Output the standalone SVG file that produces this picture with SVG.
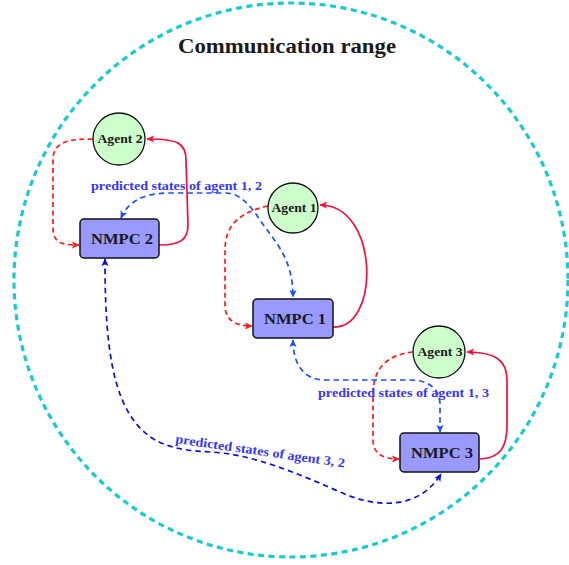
<svg xmlns="http://www.w3.org/2000/svg" width="569" height="565" viewBox="0 0 569 565">
<style>
.range{fill:none;stroke:#16cccc;stroke-width:3.2;stroke-dasharray:6 4.5}
.agent circle{fill:#ccffcc;stroke:#111;stroke-width:1.3}
.nmpc rect{fill:#9999ff;stroke:#111;stroke-width:1.5}
.alab{font-family:"Liberation Serif",serif;font-weight:bold;font-size:12px;fill:#1a1a1a;text-anchor:middle}
.nlab{font-family:"Liberation Serif",serif;font-weight:bold;font-size:15px;fill:#1a1a1a;text-anchor:middle}
.title{font-family:"Liberation Serif",serif;font-weight:bold;font-size:20px;fill:#1a1a1a;text-anchor:middle}
.plab{font-family:"Liberation Serif",serif;font-weight:bold;font-size:13px;fill:#3636ff}
.rd{fill:none;stroke:#ff1a1a;stroke-width:1.7;stroke-dasharray:5 3.5;marker-end:url(#ar)}
.rs{fill:none;stroke:#f5103c;stroke-width:1.7;marker-end:url(#as)}
.bd{fill:none;stroke:#1a4fff;stroke-width:1.7;stroke-dasharray:5.5 4;marker-start:url(#ab);marker-end:url(#ab)}
.bd2{fill:none;stroke:#0a10dc;stroke-width:1.7;stroke-dasharray:5.5 4;marker-start:url(#ab2);marker-end:url(#ab2)}
</style>
<defs>
<marker id="ar" viewBox="0 0 10 10" refX="9" refY="5" markerWidth="8" markerHeight="8" markerUnits="userSpaceOnUse" orient="auto-start-reverse"><path d="M0,0.5 L10,5 L0,9.5 L2.5,5 Z" fill="#ff1a1a"/></marker>
<marker id="as" viewBox="0 0 10 10" refX="9" refY="5" markerWidth="8" markerHeight="8" markerUnits="userSpaceOnUse" orient="auto-start-reverse"><path d="M0,0.5 L10,5 L0,9.5 L2.5,5 Z" fill="#f5103c"/></marker>
<marker id="ab" viewBox="0 0 10 10" refX="9" refY="5" markerWidth="8" markerHeight="8" markerUnits="userSpaceOnUse" orient="auto-start-reverse"><path d="M0,0.5 L10,5 L0,9.5 L2.5,5 Z" fill="#1a4fff"/></marker>
<marker id="ab2" viewBox="0 0 10 10" refX="9" refY="5" markerWidth="8" markerHeight="8" markerUnits="userSpaceOnUse" orient="auto-start-reverse"><path d="M0,0.5 L10,5 L0,9.5 L2.5,5 Z" fill="#0a10dc"/></marker>
</defs>
<rect width="569" height="565" fill="#fff"/>
<g id="range">
<circle class="range" cx="291" cy="280" r="277"/>
<text class="title" x="287" y="53" textLength="218" lengthAdjust="spacingAndGlyphs">Communication range</text>
</g>
<g id="connectors">
<path class="rd" d="M93,139 C70,139 53,141 53,160 L53,228 C53,243 62,245 79,245"/>
<path class="rs" d="M159,245 C180,245 188,240 188,225 L186,160 C186,143 178,139 147,139"/>
<path class="rd" d="M268,206 C240,212 225,225 225,250 L225,305 C225,320 235,326 252,326"/>
<path class="rs" d="M333,327 C380,330 380,205 320,205"/>
<path class="rd" d="M413,352 C385,355 373,370 373,395 L373,440 C373,455 385,459 399,459"/>
<path class="rs" d="M480,459 C500,458 507,448 507,425 L507,380 C507,360 495,352 467,352"/>
<path class="bd" d="M121,218 C128,202 142,193 170,193 L225,193 C240,193 250,205 260,220 C275,242 293,258 293,297"/>
<path class="bd" d="M293,340 C293,362 302,380 325,380 L410,380 C430,380 440,390 440,405 L440,432"/>
<path class="bd2" d="M105,259 C105,320 108,380 130,415 C148,443 170,450 210,452 C250,454 290,470 340,492 C380,510 420,508 441,474"/>
<text class="plab" x="91" y="190" textLength="171" lengthAdjust="spacingAndGlyphs">predicted states of agent 1, 2</text>
<text class="plab" x="318" y="397" textLength="171" lengthAdjust="spacingAndGlyphs">predicted states of agent 1, 3</text>
<text class="plab" x="175" y="443" transform="rotate(8.2 175 443)" textLength="171" lengthAdjust="spacingAndGlyphs">predicted states of agent 3, 2</text>
</g>
<g id="agent2" class="agent"><circle cx="119" cy="139" r="26"/><text class="alab" x="120" y="143" textLength="45" lengthAdjust="spacingAndGlyphs">Agent 2</text></g>
<g id="agent1" class="agent"><circle cx="293" cy="208" r="25"/><text class="alab" x="294" y="212" textLength="45" lengthAdjust="spacingAndGlyphs">Agent 1</text></g>
<g id="agent3" class="agent"><circle cx="439" cy="352" r="26"/><text class="alab" x="440" y="356" textLength="45" lengthAdjust="spacingAndGlyphs">Agent 3</text></g>
<g id="nmpc2" class="nmpc"><rect x="80" y="219" width="79" height="39" rx="4"/><text class="nlab" x="122" y="244" textLength="62" lengthAdjust="spacingAndGlyphs">NMPC 2</text></g>
<g id="nmpc1" class="nmpc"><rect x="253" y="299" width="80" height="39" rx="4"/><text class="nlab" x="295" y="324" textLength="62" lengthAdjust="spacingAndGlyphs">NMPC 1</text></g>
<g id="nmpc3" class="nmpc"><rect x="400" y="433" width="79" height="39" rx="4"/><text class="nlab" x="442" y="458" textLength="62" lengthAdjust="spacingAndGlyphs">NMPC 3</text></g>
</svg>
